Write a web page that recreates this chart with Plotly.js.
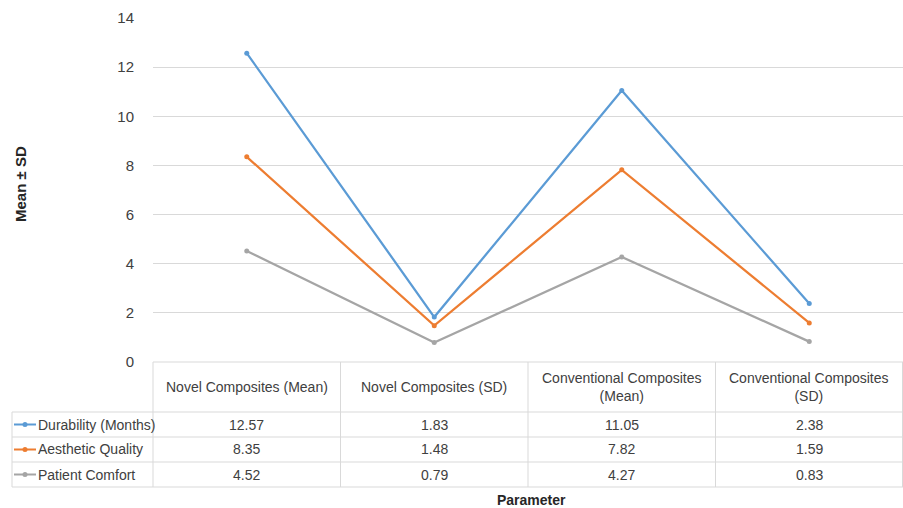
<!DOCTYPE html>
<html><head><meta charset="utf-8">
<script src="https://cdn.plot.ly/plotly-3.0.1.min.js"></script>
<style>html,body{margin:0;padding:0;background:#fff}#chart{width:903px;height:508px}</style>
</head><body><div id="chart"></div>
<script>
const categories = ["Novel Composites (Mean)", "Novel Composites (SD)", "Conventional Composites (Mean)", "Conventional Composites (SD)"];
const headerLabels = ["Novel Composites (Mean)", "Novel Composites (SD)", "Conventional Composites<br>(Mean)", "Conventional Composites<br>(SD)"];
const seriesNames = ["Durability (Months)", "Aesthetic Quality", "Patient Comfort"];
const durability = [12.57, 1.83, 11.05, 2.38];
const aesthetic = [8.35, 1.48, 7.82, 1.59];
const comfort = [4.52, 0.79, 4.27, 0.83];
const yTicks = [0, 2, 4, 6, 8, 10, 12, 14];

const seriesValues = [durability, aesthetic, comfort];
const colors = ["#5b9bd5", "#ed7d31", "#a5a5a5"];
const FONT = "'Liberation Sans', Arial, sans-serif";
const W = 903, H = 508, L = 153, R = 0, T = 18, B = 146;
const PW = W - L - R, PH = H - T - B;
const px = x => (x - L) / PW;
const py = y => (H - B - y) / PH;
const grid = "#d9d9d9";
const TXT = '#404040';

const traces = seriesValues.map((vals, i) => ({
  x: categories, y: vals, type: 'scatter', mode: 'lines+markers', name: seriesNames[i],
  line: {color: colors[i], width: 2.25}, marker: {color: colors[i], size: 5},
  showlegend: false, hoverinfo: 'skip'
}));

const shapes = [];
const annotations = [];
const line = (x0, y0, x1, y1) => shapes.push({type: 'line', xref: 'paper', yref: 'paper',
  x0: px(x0), y0: py(y0), x1: px(x1), y1: py(y1), line: {color: grid, width: 1}});
const rowTops = [412, 437, 462, 487];
line(L, 362, W, 362);
rowTops.forEach(y => line(12, y, W, y));
line(12, 412, 12, 487);
const colEdges = [153, 340.5, 528, 715.5, 902.5];
colEdges.forEach(x => line(x, 362, x, 487));

headerLabels.forEach((t, j) => annotations.push({xref: 'x', yref: 'paper', x: j, y: py(387), yanchor: 'middle',
  text: t, showarrow: false, font: {family: FONT, size: 14, color: TXT}, align: 'center'}));
const rowCenters = [424.5, 449.5, 474.5];
seriesNames.forEach((name, i) => {
  const yc = rowCenters[i];
  shapes.push({type: 'line', xref: 'paper', yref: 'paper', x0: px(14), x1: px(36), y0: py(yc), y1: py(yc),
    line: {color: colors[i], width: 2}});
  shapes.push({type: 'circle', xref: 'paper', yref: 'paper', x0: px(22.5), x1: px(27.5), y0: py(yc + 2.5), y1: py(yc - 2.5),
    fillcolor: colors[i], line: {color: colors[i], width: 0}});
  annotations.push({xref: 'paper', yref: 'paper', x: px(36), y: py(yc), xanchor: 'left', yanchor: 'middle', text: name,
    showarrow: false, font: {family: FONT, size: 14, color: TXT}});
  seriesValues[i].forEach((v, j) => annotations.push({xref: 'x', yref: 'paper', x: j, y: py(yc), yanchor: 'middle',
    text: v.toFixed(2), showarrow: false, font: {family: FONT, size: 14, color: TXT}}));
});
annotations.push({xref: 'paper', yref: 'paper', x: px(20), y: py(184), xanchor: 'center', yanchor: 'middle',
  text: '<b>Mean ± SD</b>', textangle: -90, showarrow: false, font: {family: FONT, size: 15, color: '#262626'}});
annotations.push({xref: 'paper', yref: 'paper', x: px(531), y: py(500), xanchor: 'center', yanchor: 'middle',
  text: '<b>Parameter</b>', showarrow: false, font: {family: FONT, size: 14, color: '#262626'}});

const layout = {
  width: W, height: H, margin: {l: L, r: R, t: T, b: B},
  paper_bgcolor: '#fff', plot_bgcolor: '#fff', showlegend: false,
  xaxis: {type: 'category', range: [-0.5, 3.5], showticklabels: false, showgrid: false, zeroline: false, showline: false, ticks: ''},
  yaxis: {range: [0, 14], tickvals: yTicks, ticktext: yTicks.map(String), showgrid: true, gridcolor: grid, gridwidth: 1,
    zeroline: false, showline: false, ticks: 'outside', ticklen: 15, tickcolor: 'rgba(0,0,0,0)',
    tickfont: {family: FONT, size: 15, color: TXT}},
  shapes: shapes, annotations: annotations
};
Plotly.newPlot('chart', traces, layout, {staticPlot: true, displayModeBar: false});
</script></body></html>
